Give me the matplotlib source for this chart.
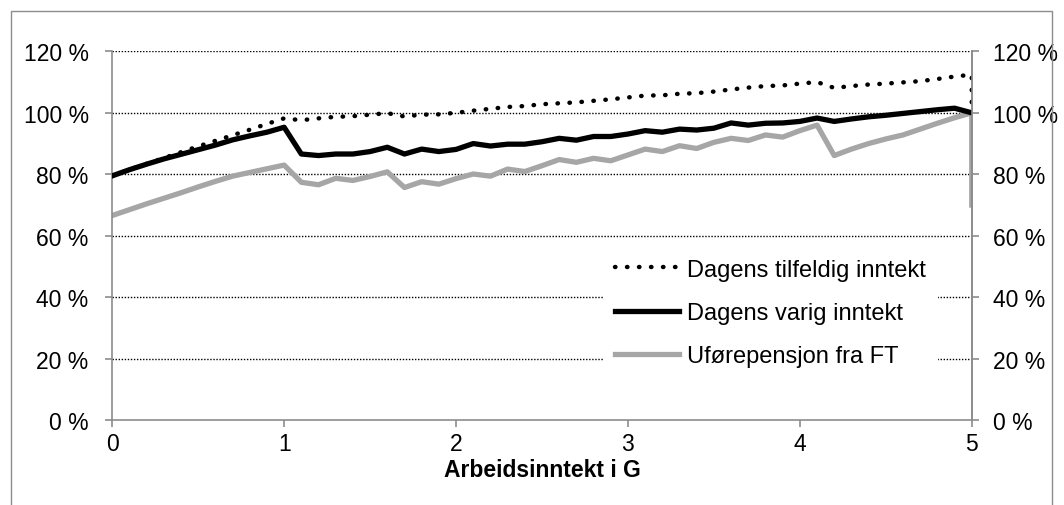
import matplotlib
matplotlib.use("Agg")
from matplotlib import pyplot as plt
from matplotlib.patches import Rectangle

plt.rcParams["font.family"] = ["Liberation Sans", "DejaVu Sans"]

# income in G (last point repeated at 5 for the drop at the end)
inntekt_g = [0.0, 0.1, 0.2, 0.3, 0.4, 0.5, 0.6, 0.7, 0.8, 0.9,
             1.0, 1.1, 1.2, 1.3, 1.4, 1.5, 1.6, 1.7, 1.8, 1.9,
             2.0, 2.1, 2.2, 2.3, 2.4, 2.5, 2.6, 2.7, 2.8, 2.9,
             3.0, 3.1, 3.2, 3.3, 3.4, 3.5, 3.6, 3.7, 3.8, 3.9,
             4.0, 4.1, 4.2, 4.3, 4.4, 4.5, 4.6, 4.7, 4.8, 4.9,
             5.0, 5.0]

tilfeldig = [79.5, 81.5, 83.4, 85.3, 87.2, 89.1, 90.9, 92.7, 94.5, 96.4,
             98.2, 97.6, 98.2, 98.7, 98.9, 99.4, 99.9, 98.8, 99.4, 99.5,
             100.0, 100.7, 101.3, 101.9, 102.2, 102.8, 103.1, 103.4, 103.9, 104.4,
             105.0, 105.6, 105.7, 106.2, 106.4, 106.9, 107.6, 108.2, 108.7, 108.9,
             109.5, 110.0, 108.1, 108.7, 109.2, 109.5, 109.9, 110.3, 111.0, 111.8,
             112.4, 100.0]

varig = [79.5, 81.5, 83.3, 85.0, 86.5, 88.0, 89.5, 91.2, 92.5, 93.7,
         95.3, 86.6, 86.1, 86.6, 86.6, 87.4, 88.8, 86.6, 88.2, 87.4,
         88.1, 90.0, 89.2, 89.8, 89.8, 90.6, 91.7, 91.1, 92.3, 92.3,
         93.1, 94.2, 93.7, 94.7, 94.4, 95.0, 96.7, 96.0, 96.6, 96.7,
         97.2, 98.3, 97.2, 98.0, 98.7, 99.2, 99.8, 100.4, 101.0, 101.5,
         100.0, 100.0]

uforepensjon = [66.6, 68.5, 70.4, 72.2, 74.0, 75.9, 77.7, 79.4, 80.6, 81.8,
                83.0, 77.4, 76.6, 78.7, 78.0, 79.3, 80.8, 75.7, 77.6, 76.8,
                78.6, 80.1, 79.4, 81.7, 80.9, 82.8, 84.8, 83.9, 85.2, 84.4,
                86.3, 88.2, 87.4, 89.3, 88.4, 90.4, 91.7, 91.0, 92.8, 92.1,
                94.2, 96.0, 86.1, 88.2, 90.0, 91.5, 92.8, 94.7, 96.6, 98.4,
                100.0, 70.0]

y_ticks = [0, 20, 40, 60, 80, 100, 120]
y_labels = ["0 %", "20 %", "40 %", "60 %", "80 %", "100 %", "120 %"]
x_ticks = [0, 1, 2, 3, 4, 5]

AXIS_GRAY = "#8c8c8c"
LINE_GRAY = "#a6a6a6"
FS = 16.5
LEG_FS = 17

fig = plt.figure(figsize=(10.64, 5.06), dpi=100)
ax = fig.add_axes([0.1055, 0.1674, 0.8078, 0.7292])

# outer chart border
fig.add_artist(Rectangle((10.5 / 1064, -0.1), 1041.5 / 1064, 1.1 - 11.7 / 506,
                         transform=fig.transFigure, fill=False,
                         edgecolor=AXIS_GRAY, linewidth=1.0))

for y in y_ticks[1:]:
    ax.axhline(y, color="black", linestyle=(0, (1, 1.2)), linewidth=1.0, zorder=1)

ax.plot(inntekt_g, tilfeldig, color="black", linewidth=3.2,
        linestyle=(0, (0.1, 2.6)), dash_capstyle="round",
        label="Dagens tilfeldig inntekt", zorder=3)
ax.plot(inntekt_g, varig, color="black", linewidth=3.8,
        label="Dagens varig inntekt", zorder=4)
ax.plot(inntekt_g, uforepensjon, color=LINE_GRAY, linewidth=3.8,
        label="Uførepensjon fra FT", zorder=2)

ax.set_xlim(0, 5)
ax.set_ylim(0, 120)
ax.set_xticks(x_ticks)
ax.set_yticks(y_ticks)
ax.set_yticklabels(y_labels)

ax.spines["top"].set_visible(False)
for side in ["left", "right", "bottom"]:
    ax.spines[side].set_color(AXIS_GRAY)
    ax.spines[side].set_linewidth(1.2)

ax.tick_params(axis="y", direction="out", length=5, width=1.2,
               color=AXIS_GRAY, labelsize=FS, pad=12)
ax.tick_params(axis="x", direction="out", length=5, width=1.2,
               color=AXIS_GRAY, labelsize=FS, pad=3.5)

# right-hand percent axis, same scale
ax2 = ax.twinx()
ax2.set_ylim(0, 120)
ax2.set_yticks(y_ticks)
ax2.set_yticklabels(y_labels)
for side in ["left", "top", "bottom"]:
    ax2.spines[side].set_visible(False)
ax2.spines["right"].set_color(AXIS_GRAY)
ax2.spines["right"].set_linewidth(1.2)
ax2.tick_params(axis="y", direction="out", length=5, width=1.2,
                color=AXIS_GRAY, labelsize=FS, pad=10)

ax.set_xlabel("Arbeidsinntekt i G", fontsize=FS, fontweight="bold", labelpad=2)

leg = ax.legend(loc="upper left", bbox_to_anchor=(0.571, 0.47),
                borderaxespad=0, fontsize=LEG_FS, frameon=True, fancybox=False,
                handlelength=2.7, handletextpad=0.35, labelspacing=0.9,
                borderpad=0.5)
leg.get_frame().set_edgecolor("none")
leg.get_frame().set_facecolor("white")
leg.get_frame().set_alpha(1)
leg.set_zorder(5)

fig.savefig("out.png", dpi=100)
